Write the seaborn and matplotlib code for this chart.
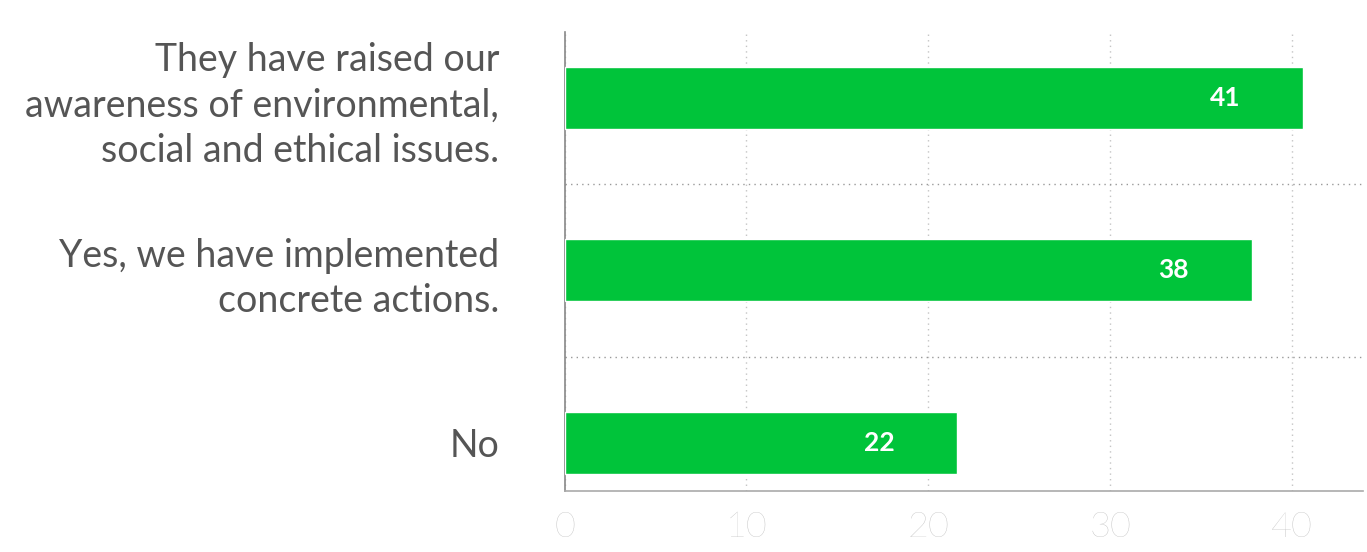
import seaborn as sns
import matplotlib.pyplot as plt
import pandas as pd
from matplotlib.ticker import FixedLocator

# data
ls_answers = ['They have raised our\nawareness of environmental,\nsocial and ethical issues.',
              'Yes, we have implemented\nconcrete actions.',
              'No']
ls_values = [40.6, 37.8, 21.6]
ls_valLabels = ['41', '38', '22']
ls_xticks = [0, 10, 20, 30, 40]

df_data = pd.DataFrame({'Answer': ls_answers, 'Value': ls_values})

sns.set_style('white')
plt.rcParams['font.family'] = ['Lato', 'DejaVu Sans']

fig = plt.figure(figsize=(13.67, 5.52), dpi=100)
ax = fig.add_axes([0.413, 0.11, 0.584, 0.832])

sns.barplot(data=df_data, x='Value', y='Answer', orient='h', color='#00c43a',
            width=0.36, saturation=1, ax=ax, zorder=3)

for i, s_lab in enumerate(ls_valLabels):
    ax.text(ls_values[i] - 4.3, i, s_lab, color='white', fontsize=19,
            fontweight='bold', ha='center', va='center', zorder=4)

ax.set_xlim(0, 43.9)
ax.set_ylim(2.28, -0.38)
ax.set_xticks(ls_xticks)
ax.set_xticklabels([str(v) for v in ls_xticks], fontsize=26, color='#bdbdbd',
                   fontweight='light')
ax.set_yticks(range(len(ls_answers)))
ax.set_yticklabels(ls_answers, fontsize=27, color='#555555',
                   multialignment='right', linespacing=1.32)
ax.tick_params(axis='y', length=0, pad=47)
ax.tick_params(axis='x', length=0, pad=14)

ax.yaxis.set_minor_locator(FixedLocator([0.5, 1.5]))
ax.grid(axis='x', which='major', linestyle=(0, (1, 3)), color='#c4c4c4', linewidth=1, zorder=0)
ax.grid(axis='y', which='minor', linestyle=(0, (1, 3)), color='#999999', linewidth=1, zorder=0)
ax.grid(axis='y', which='major', visible=False)

for s in ['top', 'right']:
    ax.spines[s].set_visible(False)
ax.spines['left'].set_color('#888888')
ax.spines['bottom'].set_color('#aaaaaa')
ax.spines['left'].set_linewidth(1.2)
ax.spines['bottom'].set_linewidth(1.2)
ax.set_xlabel('')
ax.set_ylabel('')

plt.savefig('out.png', dpi=100)
